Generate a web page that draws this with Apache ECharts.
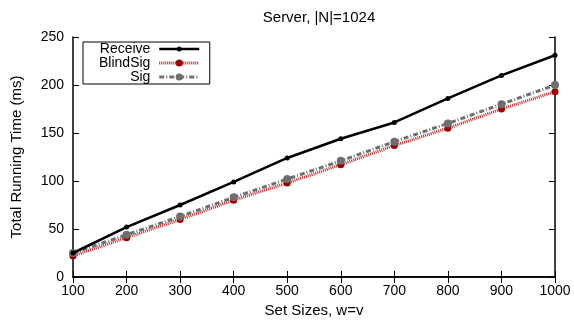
<!DOCTYPE html>
<html><head><meta charset="utf-8">
<script src="https://cdn.jsdelivr.net/npm/echarts@6/dist/echarts.min.js"></script>
<style>html,body{margin:0;padding:0;background:#fff}#c{width:574px;height:327px}</style>
</head><body><div id="c"></div>
<script>
const categories = [100, 200, 300, 400, 500, 600, 700, 800, 900, 1000];
const receive = [25, 52, 75, 99, 124, 144, 161, 186, 210, 231];
const blindSig = [22, 41, 60, 80, 98, 117, 137, 155, 175, 193];
const sig = [25, 44, 63, 83, 102, 121, 141, 160, 180, 200];
const yTicks = [0, 50, 100, 150, 200, 250];

const font = 'Liberation Sans, Arial, Helvetica, sans-serif';
const pair = a => a.map((v, i) => [categories[i], v]);
const chart = echarts.init(document.getElementById('c'), null, {renderer: 'canvas'});
const axisCommon = {
  axisLine: {show: true, lineStyle: {color: '#000', width: 1.5}},
  axisTick: {show: true, inside: true, length: 6, lineStyle: {color: '#000', width: 1}},
  splitLine: {show: false}
};
const receiveIcon = 'path://M0,3.75L40,3.75L40,6.25L0,6.25Z M20,2.5A2.5,2.5 0 1,1 20,7.5A2.5,2.5 0 1,1 20,2.5Z';
chart.setOption({
  animation: false,
  backgroundColor: '#fff',
  title: {text: 'Server, |N|=1024', left: 314, top: 5, textAlign: 'center',
    textStyle: {fontFamily: font, fontSize: 15, fontWeight: 'normal', color: '#000'}},
  grid: {left: 73, right: 19, top: 37, bottom: 50},
  legend: {
    orient: 'vertical', left: 83, top: 42, align: 'right',
    itemGap: 0, itemWidth: 40, itemHeight: 9,
    padding: [0, 9, 0, 16],
    borderColor: '#000', borderWidth: 1,
    backgroundColor: '#fff',
    formatter: n => n + ' ',
    textStyle: {fontFamily: font, fontSize: 14, color: '#000', lineHeight: 14},
    data: [
      {name: 'Receive', icon: receiveIcon},
      {name: 'BlindSig', lineStyle: {width: 3, type: [1, 1], color: '#c0282a'}},
      {name: 'Sig', lineStyle: {width: 3, type: [5, 2, 1, 2], color: '#707070'}}
    ]
  },
  xAxis: [
    Object.assign({type: 'value', min: 100, max: 1000, interval: 100,
      name: 'Set Sizes, w=v', nameLocation: 'middle', nameGap: 23,
      nameTextStyle: {fontFamily: font, fontSize: 15, color: '#000'},
      axisLabel: {fontFamily: font, fontSize: 14, color: '#000', margin: 7,
        formatter: v => String(v)}}, axisCommon),
    Object.assign({type: 'value', min: 100, max: 1000, interval: 100, position: 'top',
      axisLabel: {show: false}}, axisCommon)
  ],
  yAxis: [
    Object.assign({type: 'value', min: yTicks[0], max: yTicks[yTicks.length - 1], interval: 50,
      name: 'Total Running Time (ms)', nameLocation: 'middle', nameGap: 49,
      nameTextStyle: {fontFamily: font, fontSize: 15, color: '#000'},
      axisLabel: {fontFamily: font, fontSize: 14, color: '#000', margin: 9,
        formatter: v => String(v)}}, axisCommon),
    Object.assign({type: 'value', min: 0, max: 250, interval: 50, position: 'right',
      axisLabel: {show: false}}, axisCommon)
  ],
  series: [
    {name: 'BlindSig', type: 'line', data: pair(blindSig), z: 3,
      symbol: 'circle', symbolSize: 7,
      itemStyle: {color: '#9e0000'},
      lineStyle: {color: '#c0282a', width: 3, type: [1, 1]}},
    {name: 'Sig', type: 'line', data: pair(sig), z: 4,
      symbol: 'circle', symbolSize: 8,
      itemStyle: {color: '#6e6e6e'},
      lineStyle: {color: '#707070', width: 3, type: [5, 2, 1, 2]}},
    {name: 'Receive', type: 'line', data: pair(receive), z: 5,
      symbol: 'circle', symbolSize: 5,
      itemStyle: {color: '#000'},
      lineStyle: {color: '#000', width: 2.5}}
  ]
});
</script></body></html>
